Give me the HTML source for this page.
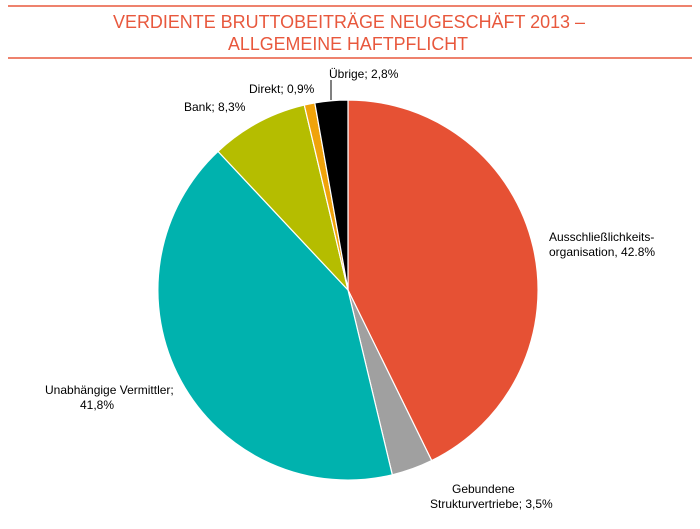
<!DOCTYPE html>
<html><head><meta charset="utf-8"><style>
html,body{margin:0;padding:0;background:#fff;}
svg{display:block;font-family:"Liberation Sans",Arial,sans-serif;}
</style></head><body>
<svg width="700" height="529" viewBox="0 0 700 529" xmlns="http://www.w3.org/2000/svg">
<rect width="700" height="529" fill="#fff"/>
<line x1="8" y1="6" x2="692" y2="6" stroke="#e8583d" stroke-width="1.5"/>
<line x1="8" y1="58" x2="692" y2="58" stroke="#e8583d" stroke-width="1.5"/>
<text x="349" y="28" text-anchor="middle" font-size="18" fill="#e8583d" textLength="472" lengthAdjust="spacingAndGlyphs">VERDIENTE BRUTTOBEITRÄGE NEUGESCHÄFT 2013 –</text>
<text x="348" y="50" text-anchor="middle" font-size="18" fill="#e8583d" textLength="240" lengthAdjust="spacingAndGlyphs">ALLGEMEINE HAFTPFLICHT</text>
<g stroke="#fff" stroke-width="1.2" stroke-linejoin="round">
<path d="M348,290 L348,100 A190,190 0 0 1 431.7,460.6 Z" fill="#e65134"/>
<path d="M348,290 L431.7,460.6 A190,190 0 0 1 392.3,474.8 Z" fill="#a0a0a0"/>
<path d="M348,290 L392.3,474.8 A190,190 0 0 1 218.0,151.4 Z" fill="#00b2ae"/>
<path d="M348,290 L218.0,151.4 A190,190 0 0 1 304.3,105.1 Z" fill="#b5bd00"/>
<path d="M348,290 L304.3,105.1 A190,190 0 0 1 314.8,102.9 Z" fill="#f0a30a"/>
<path d="M348,290 L314.8,102.9 A190,190 0 0 1 348,100 Z" fill="#000"/>
</g>
<line x1="331" y1="80" x2="331" y2="100" stroke="#000" stroke-width="1"/>
<g font-size="12" fill="#000">
<text x="549" y="241">Ausschließlichkeits-</text>
<text x="549" y="256">organisation, 42.8%</text>
<text x="452" y="493">Gebundene</text>
<text x="430" y="508">Strukturvertriebe; 3,5%</text>
<text x="45" y="394">Unabhängige Vermittler;</text>
<text x="80" y="409">41,8%</text>
<text x="184" y="111">Bank; 8,3%</text>
<text x="249" y="93">Direkt; 0,9%</text>
<text x="329" y="78">Übrige; 2,8%</text>
</g>
</svg>
</body></html>
